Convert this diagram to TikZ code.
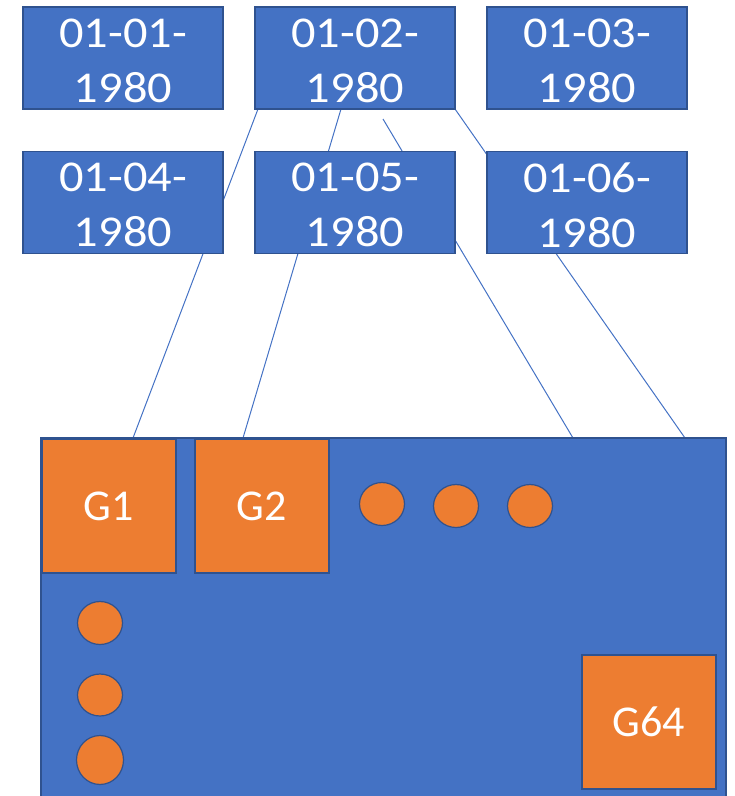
\documentclass[tikz,border=0pt]{standalone}
\usepackage{fontspec}
\setmainfont{Carlito}
\newfontfamily\datefont[FakeStretch=1.1]{Carlito}
\usetikzlibrary{backgrounds,calc,shapes.geometric}
\definecolor{officeblue}{HTML}{4472C4}
\definecolor{edgeblue}{HTML}{2F528F}
\definecolor{officeorange}{HTML}{ED7D31}
\begin{document}
\begin{tikzpicture}[x=1pt,y=-1pt,
  datebox/.style={draw=edgeblue,line width=1.5pt,fill=officeblue,
    minimum width=200pt,minimum height=102pt,inner sep=0pt,outer sep=0pt},
  datetext/.style={align=center,text=white,inner sep=0pt,
    font=\datefont\fontsize{44}{55}\selectfont},
  groupbox/.style={draw=edgeblue,line width=1.5pt,fill=officeorange,
    minimum width=134pt,minimum height=134pt,inner sep=0pt,outer sep=0pt,
    text=white,font=\fontsize{44}{53}\selectfont},
  dot/.style={ellipse,draw=edgeblue,line width=1.2pt,fill=officeorange,
    inner sep=0pt,outer sep=0pt},
  link/.style={draw=officeblue,line width=1pt}]
\useasboundingbox (0,0) rectangle (735,796);
\clip (0,0) rectangle (735,796);

% date boxes, two rows of three
\node[datebox] (d1) at (123,58)    {};
\node[datebox] (d2) at (355,58)    {};
\node[datebox] (d3) at (587,58)    {};
\node[datebox] (d4) at (123,202.5) {};
\node[datebox] (d5) at (355,202.5) {};
\node[datebox] (d6) at (587,202.5) {};
% their labels, set a little below the box centres
\foreach \b/\t in {d1/01-01-, d2/01-02-, d3/01-03-, d4/01-04-, d5/01-05-, d6/01-06-}
  \node[datetext] (\b-label) at ($(\b.center)+(0,2.5)$) {\t\\1980};

% the large board holding the groups
\node[draw=edgeblue,line width=1.5pt,fill=officeblue,inner sep=0pt,outer sep=0pt,
      minimum width=685pt,minimum height=400pt] (board) at (383.5,638) {};

\node[groupbox] (g1)  at (109,506) {G1};
\node[groupbox] (g2)  at (262,506) {G2};
\node[groupbox] (g64) at (649,722) {G64};

% ellipsis dots
\node[dot,minimum width=45pt,minimum height=43pt] (r1) at (382,504) {};
\node[dot,minimum width=45pt,minimum height=43pt] (r2) at (456,506) {};
\node[dot,minimum width=45pt,minimum height=43pt] (r3) at (530,506) {};
\node[dot,minimum width=45pt,minimum height=43pt] (c1) at (100,623) {};
\node[dot,minimum width=45pt,minimum height=42pt] (c2) at (100,695) {};
\node[dot,minimum width=47pt,minimum height=49pt] (c3) at (100,760) {};

% connectors from 01-02 down to the board, passing behind the second row
\coordinate (s1) at ($(d2.south west)+(3,0)$);
\coordinate (s2) at ($(d2.south west)+(86,0)$);
\coordinate (s3) at ($(d2.south west)+(128,10)$);
\coordinate (s4) at (d2.south east);
\coordinate (e1) at ($(board.north west)+(92,0)$);
\coordinate (e2) at ($(board.north west)+(202,0)$);
\coordinate (e3) at ($(board.north west)+(532,0)$);
\coordinate (e4) at ($(board.north west)+(644,0)$);
\begin{scope}[on background layer]
  \draw[link] (s1) -- (e1);
  \draw[link] (s2) -- (e2);
  \draw[link] (s3) -- (e3);
  \draw[link] (s4) -- (e4);
\end{scope}
\end{tikzpicture}
\end{document}
